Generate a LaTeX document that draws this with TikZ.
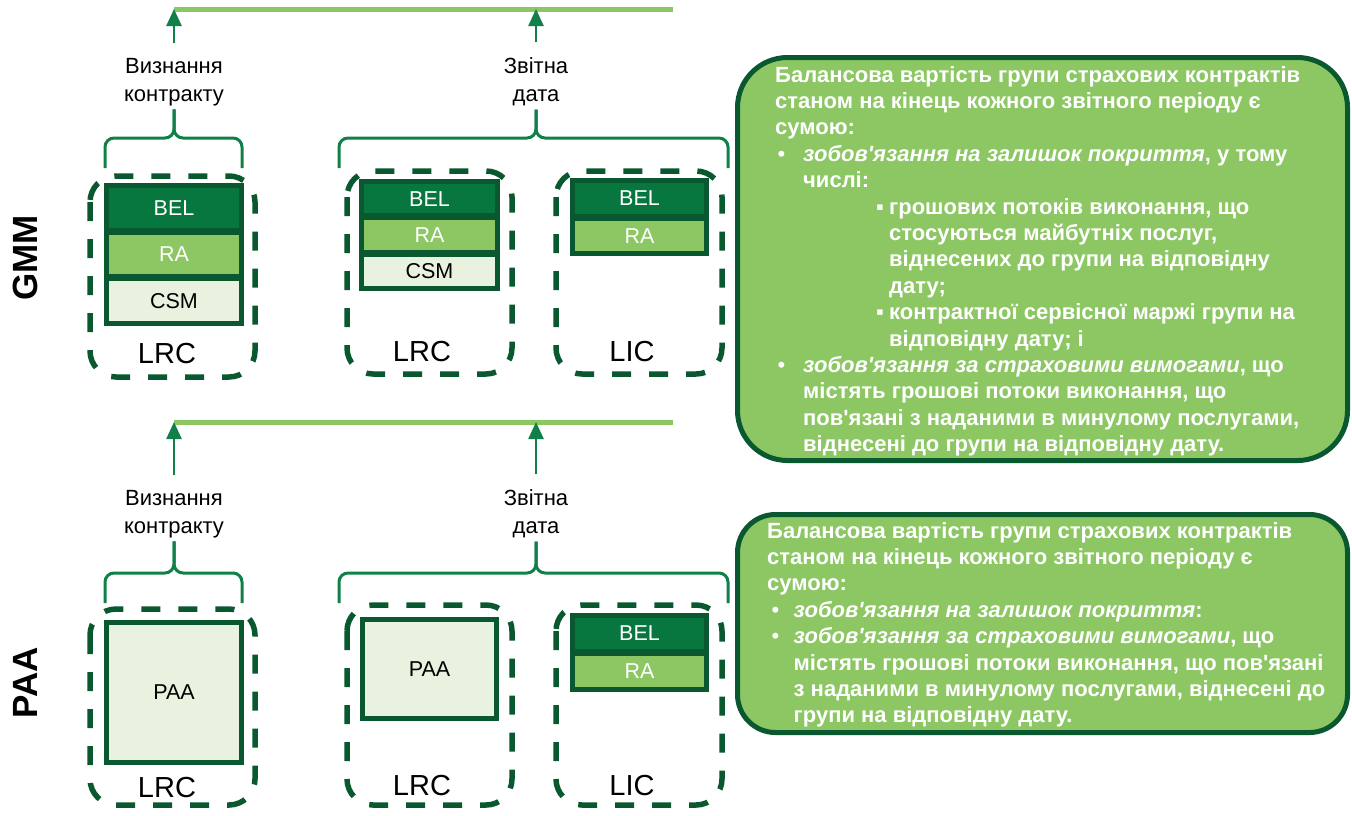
\documentclass[tikz,border=0pt]{standalone}
\usepackage{fontspec}
\setmainfont{Liberation Sans}
\newfontfamily\uafont{Liberation Sans}
\usetikzlibrary{arrows.meta}
\usetikzlibrary{positioning}
\definecolor{dkgreen}{RGB}{10,88,48}
\definecolor{belgreen}{RGB}{7,119,63}
\definecolor{lgreen}{RGB}{140,199,100}
\definecolor{pale}{RGB}{232,242,222}
\definecolor{mgreen}{RGB}{16,128,72}

\begin{document}
\begin{tikzpicture}[x=1pt,y=-1pt,font=\uafont,
seg/.style={draw=dkgreen,line width=5pt,outer sep=0pt,inner sep=0pt,font=\uafont\fontsize{21.5}{21.5}\selectfont},
bel/.style={seg,fill=belgreen,text=white},
ra/.style={seg,fill=lgreen,text=white},
csm/.style={seg,fill=pale,text=black},
dashbox/.style={draw=dkgreen,line width=5.5pt,dash pattern=on 19pt off 18pt,rounded corners=26pt},
brace/.style={draw=mgreen,line width=3pt,rounded corners=9pt},
timeline/.style={draw=lgreen,line width=5pt},
arr/.style={draw=mgreen,line width=2.5pt,-{Triangle[width=15pt,length=17pt]}},
lbl/.style={align=center,font=\uafont\fontsize{22}{28}\selectfont},
part/.style={font=\uafont\fontsize{29}{29}\selectfont},
model/.style={rotate=90,font=\uafont\bfseries\fontsize{35}{35}\selectfont},
infobox/.style={draw=dkgreen,line width=5pt,fill=lgreen},
info/.style={anchor=north west,align=left,inner sep=0pt,text=white,font=\uafont\bfseries\fontsize{22}{26.4}\selectfont}]
\useasboundingbox (0,0) rectangle (1352,815);

\node [model] (gmm) at (25,258) {GMM};
\node [model] (paa) at (25,683) {PAA};

% GMM
\draw [timeline] (174,9) -- (673,9);
\coordinate (recA) at (174,9);
\coordinate (repA) at (536,9);
\node [lbl] (recogA) at (174,82) {Визнання\\контракту};
\node [lbl] (repdA) at (536,82) {Звітна\\дата};
\draw [arr,shorten <=12pt] (recogA.north) -- (recA);
\draw [arr,shorten <=12pt] (repdA.north) -- (repA);
\draw [brace] (105,168) |- (174,138) -- (recogA.south);
\draw [brace] (242,168) |- (174,138) -- (recogA.south);
\draw [brace] (339,168) |- (536,138) -- (repdA.south);
\draw [brace] (728,168) |- (536,138) -- (repdA.south);

\draw [dashbox] (90,176) rectangle (255,377);
\draw [dashbox] (347,171) rectangle (512,374);
\draw [dashbox] (556,171) rectangle (722,374);

\node [bel,minimum width=135pt,minimum height=44.7pt] (belA) at (174,207.8) {BEL};
\node [ra,minimum width=135pt,minimum height=44.7pt,below=2pt of belA] (raA) {RA};
\node [csm,minimum width=135pt,minimum height=44.7pt,below=2pt of raA] (csmA) {CSM};
\node [bel,minimum width=136pt,minimum height=34.3pt] (belB) at (429.5,198.7) {BEL};
\node [ra,minimum width=136pt,minimum height=34.3pt,below=2pt of belB] (raB) {RA};
\node [csm,minimum width=136pt,minimum height=34.3pt,below=2pt of raB] (csmB) {CSM};
\node [bel,minimum width=134pt,minimum height=35.5pt] (belC) at (639.5,198.3) {BEL};
\node [ra,minimum width=134pt,minimum height=35.5pt,below=2pt of belC] (raC) {RA};

\node [part] (lrcA) at (167,354) {LRC};
\node [part] (lrcB) at (422,352) {LRC};
\node [part] (licC) at (632,352) {LIC};

\draw [infobox,rounded corners=50pt] (737.5,57.5) rectangle (1347.5,460.5);
\node [info] (gmmtext) at (775,66) {Балансова вартість групи страхових контрактів\\
станом на кінець кожного звітного періоду є\\
сумою:\\
\makebox[28pt][l]{\hspace{2.5pt}\mdseries•}\textit{зобов'язання на залишок покриття}, у тому\\
\hspace*{28pt}числі:\\
\hspace*{101pt}\makebox[13pt][l]{▪}грошових потоків виконання, що\\
\hspace*{114pt}стосуються майбутніх послуг,\\
\hspace*{114pt}віднесених до групи на відповідну\\
\hspace*{114pt}дату;\\
\hspace*{101pt}\makebox[13pt][l]{▪}контрактної сервісної маржі групи на\\
\hspace*{114pt}відповідну дату; і\\
\makebox[28pt][l]{\hspace{2.5pt}\mdseries•}\textit{зобов'язання за страховими вимогами}, що\\
\hspace*{28pt}містять грошові потоки виконання, що\\
\hspace*{28pt}пов'язані з наданими в минулому послугами,\\
\hspace*{28pt}віднесені до групи на відповідну дату.};

% PAA
\draw [timeline] (174,422) -- (673,422);
\coordinate (recB) at (174,422);
\coordinate (repB) at (536,422);
\node [lbl] (recogB) at (174,514) {Визнання\\контракту};
\node [lbl] (repdB) at (536,514) {Звітна\\дата};
\draw [arr,shorten <=12pt] (recogB.north) -- (recB);
\draw [arr,shorten <=12pt] (repdB.north) -- (repB);
\draw [brace] (105,603) |- (174,573) -- (recogB.south);
\draw [brace] (242,603) |- (174,573) -- (recogB.south);
\draw [brace] (339,603) |- (536,573) -- (repdB.south);
\draw [brace] (728,603) |- (536,573) -- (repdB.south);

\draw [dashbox] (90,609) rectangle (255,805);
\draw [dashbox] (347,605) rectangle (512,805);
\draw [dashbox] (556,605) rectangle (722,805);

\node [csm,minimum width=135pt,minimum height=140pt] (paaA) at (174,692.5) {PAA};
\node [csm,minimum width=134pt,minimum height=99pt] (paaB) at (429.5,669) {PAA};
\node [bel,minimum width=134pt,minimum height=36pt] (belD) at (639.5,633.5) {BEL};
\node [ra,minimum width=134pt,minimum height=36pt,below=2pt of belD] (raD) {RA};

\node [part] (lrcD) at (167,788) {LRC};
\node [part] (lrcE) at (422,786) {LRC};
\node [part] (licF) at (632,786) {LIC};

\draw [infobox,rounded corners=38pt] (737.5,514.5) rectangle (1347.5,732.5);
\node [info] (paatext) at (767,522) {Балансова вартість групи страхових контрактів\\
станом на кінець кожного звітного періоду є\\
сумою:\\
\makebox[26.5pt][l]{\hspace{4.5pt}\mdseries•}\textit{зобов'язання на залишок покриття}:\\
\makebox[26.5pt][l]{\hspace{4.5pt}\mdseries•}\textit{зобов'язання за страховими вимогами}, що\\
\hspace*{26.5pt}містять грошові потоки виконання, що пов'язані\\
\hspace*{26.5pt}з наданими в минулому послугами, віднесені до\\
\hspace*{26.5pt}групи на відповідну дату.};
\end{tikzpicture}
\end{document}
